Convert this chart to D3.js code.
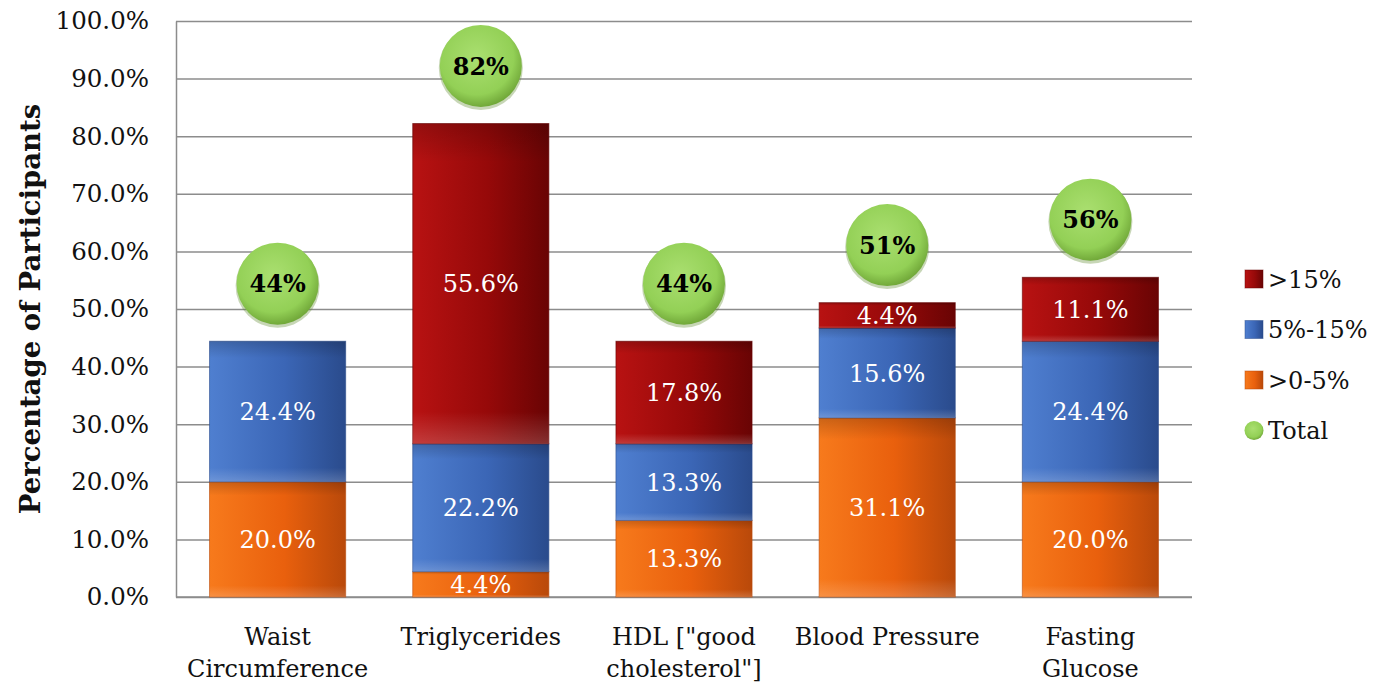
<!DOCTYPE html>
<html lang="en">
<head>
<meta charset="UTF-8">
<title>Percentage of Participants</title>
<script src="https://d3js.org/d3.v7.min.js"></script>
<style>
  body { margin: 0; background: #fff; }
  svg text { font-family: "DejaVu Serif", serif; }
</style>
</head>
<body>
<svg id="chart" width="1383" height="684"></svg>
<script>
// data
var categories = [["Waist", "Circumference"], ["Triglycerides"], ["HDL [\"good", "cholesterol\"]"], ["Blood Pressure"], ["Fasting", "Glucose"]];
var low = [20.0, 4.4, 13.3, 31.1, 20.0];      // >0-5%
var mid = [24.4, 22.2, 13.3, 15.6, 24.4];     // 5%-15%
var high = [0, 55.6, 17.8, 4.4, 11.1];        // >15%
var totals = [44, 82, 44, 51, 56];
var yTicks = [0, 10, 20, 30, 40, 50, 60, 70, 80, 90, 100];

var series = [
    { key: ">0-5%", values: low, colors: ["#f77a1c", "#e9600d", "#b9490a"] },
    { key: "5%-15%", values: mid, colors: ["#4f7fd0", "#3b66b6", "#2a4b8c"] },
    { key: ">15%", values: high, colors: ["#b81212", "#960909", "#690404"] }
];

var svg = d3.select("#chart"),
    margin = { left: 176, right: 191, top: 21, bottom: 87 },
    width = 1383 - margin.left - margin.right,
    height = 684 - margin.top - margin.bottom;

var defs = svg.append("defs");
series.forEach(function(s, i) {
    var g = defs.append("linearGradient").attr("id", "grad" + i)
        .attr("x1", "0").attr("x2", "1").attr("y1", "0").attr("y2", "0");
    g.append("stop").attr("offset", "0").attr("stop-color", s.colors[0]);
    g.append("stop").attr("offset", "0.55").attr("stop-color", s.colors[1]);
    g.append("stop").attr("offset", "1").attr("stop-color", s.colors[2]);
});
var bub = defs.append("radialGradient").attr("id", "bubble")
    .attr("cx", "0.45").attr("cy", "0.4").attr("r", "0.6");
bub.append("stop").attr("offset", "0").attr("stop-color", "#aadf70");
bub.append("stop").attr("offset", "0.75").attr("stop-color", "#93d056");
bub.append("stop").attr("offset", "1").attr("stop-color", "#72a93a");
var shade = defs.append("linearGradient").attr("id", "shade")
    .attr("x1", "0").attr("x2", "0").attr("y1", "0").attr("y2", "1");
shade.append("stop").attr("offset", "0").attr("stop-color", "#000").attr("stop-opacity", 0.18);
shade.append("stop").attr("offset", "0.12").attr("stop-color", "#000").attr("stop-opacity", 0);
shade.append("stop").attr("offset", "0.9").attr("stop-color", "#fff").attr("stop-opacity", 0);
shade.append("stop").attr("offset", "1").attr("stop-color", "#fff").attr("stop-opacity", 0.18);

var g = svg.append("g").attr("transform", "translate(" + margin.left + "," + margin.top + ")");

var x = d3.scaleBand()
    .domain(d3.range(categories.length))
    .range([0, width])
    .paddingInner(0.33)
    .paddingOuter(0.165);

var y = d3.scaleLinear().domain([0, 100]).range([height, 0]);

// gridlines + y labels
var yAxis = g.append("g")
    .call(d3.axisLeft(y).tickValues(yTicks)
        .tickSizeInner(-width).tickSizeOuter(0).tickPadding(27)
        .tickFormat(function(d) { return d.toFixed(1) + "%"; }));
yAxis.select(".domain").attr("stroke", "#8c8c8c").attr("stroke-width", 1.5);
yAxis.selectAll(".tick line").attr("stroke", "#8c8c8c").attr("stroke-width", 1.5);
yAxis.selectAll(".tick text").attr("font-size", 24.5).attr("fill", "#111")
    .attr("font-family", "DejaVu Serif");

g.append("line").attr("x1", 0).attr("x2", width).attr("y1", height).attr("y2", height)
    .attr("stroke", "#8c8c8c").attr("stroke-width", 1.5);

// stacked bars
var stacked = categories.map(function(c, i) {
    var y0 = 0;
    return series.map(function(s, si) {
        var seg = { i: i, si: si, v: s.values[i], y0: y0, y1: y0 + s.values[i] };
        y0 += s.values[i];
        return seg;
    });
});
var segs = [].concat.apply([], stacked).filter(function(d) { return d.v > 0; });

var bars = g.selectAll(".seg").data(segs).enter().append("g").attr("class", "seg");
bars.append("rect")
    .attr("x", function(d) { return x(d.i); })
    .attr("y", function(d) { return y(d.y1); })
    .attr("width", x.bandwidth())
    .attr("height", function(d) { return y(d.y0) - y(d.y1); })
    .attr("fill", function(d) { return "url(#grad" + d.si + ")"; })
    .attr("stroke", function(d) { return series[d.si].colors[2]; })
    .attr("stroke-opacity", 0.6);
bars.append("rect")
    .attr("x", function(d) { return x(d.i); })
    .attr("y", function(d) { return y(d.y1); })
    .attr("width", x.bandwidth())
    .attr("height", function(d) { return y(d.y0) - y(d.y1); })
    .attr("fill", "url(#shade)");
bars.append("text")
    .attr("x", function(d) { return x(d.i) + x.bandwidth() / 2; })
    .attr("y", function(d) { return (y(d.y0) + y(d.y1)) / 2; })
    .attr("dy", "0.36em")
    .attr("text-anchor", "middle")
    .attr("font-size", 24)
    .attr("fill", "#fff")
    .text(function(d) { return d.v.toFixed(1) + "%"; });

// total bubbles, drawn 10 points above the stack top
var bubbles = g.selectAll(".tot").data(categories.map(function(c, i) {
    return { i: i, top: d3.sum(series, function(s) { return s.values[i]; }), label: totals[i] };
})).enter().append("g").attr("class", "tot")
    .attr("transform", function(d) {
        return "translate(" + (x(d.i) + x.bandwidth() / 2) + "," + y(d.top + 10) + ")";
    });
bubbles.append("circle").attr("r", 42).attr("cy", 2).attr("fill", "#5e8a2e").attr("opacity", 0.35);
bubbles.append("circle").attr("r", 41).attr("fill", "url(#bubble)");
bubbles.append("text")
    .attr("dy", "0.36em")
    .attr("text-anchor", "middle")
    .attr("font-size", 24)
    .attr("font-weight", "bold")
    .attr("fill", "#000")
    .text(function(d) { return d.label + "%"; });

// category labels
var xl = g.selectAll(".xl").data(categories).enter().append("text")
    .attr("class", "xl")
    .attr("text-anchor", "middle")
    .attr("font-size", 24)
    .attr("fill", "#111")
    .attr("x", function(d, i) { return x(i) + x.bandwidth() / 2; })
    .attr("y", height + 48);
xl.selectAll("tspan").data(function(d) { return d; }).enter().append("tspan")
    .attr("x", function() { return d3.select(this.parentNode).attr("x"); })
    .attr("dy", function(d, j) { return j === 0 ? 0 : 32; })
    .text(function(d) { return d; });

// y title
svg.append("text")
    .attr("transform", "translate(40," + (margin.top + height / 2) + ") rotate(-90)")
    .attr("text-anchor", "middle")
    .attr("font-size", 27.5)
    .attr("font-weight", "bold")
    .attr("fill", "#111")
    .text("Percentage of Participants");

// legend
var legendItems = [
    { label: ">15%", si: 2 },
    { label: "5%-15%", si: 1 },
    { label: ">0-5%", si: 0 },
    { label: "Total", si: -1 }
];
var legend = svg.append("g").attr("transform", "translate(1245,279)");
var li = legend.selectAll("g").data(legendItems).enter().append("g")
    .attr("transform", function(d, i) { return "translate(0," + (i * 50.5) + ")"; });
li.filter(function(d) { return d.si >= 0; }).append("rect")
    .attr("x", 0).attr("y", -9).attr("width", 18).attr("height", 18)
    .attr("fill", function(d) { return "url(#grad" + d.si + ")"; })
    .attr("stroke", function(d) { return series[d.si].colors[2]; })
    .attr("stroke-opacity", 0.5);
li.filter(function(d) { return d.si < 0; }).append("circle")
    .attr("cx", 9).attr("cy", 0).attr("r", 9.5).attr("fill", "url(#bubble)");
li.append("text")
    .attr("x", 23).attr("dy", "0.36em")
    .attr("font-size", 24)
    .attr("fill", "#111")
    .text(function(d) { return d.label; });
</script>
</body>
</html>
